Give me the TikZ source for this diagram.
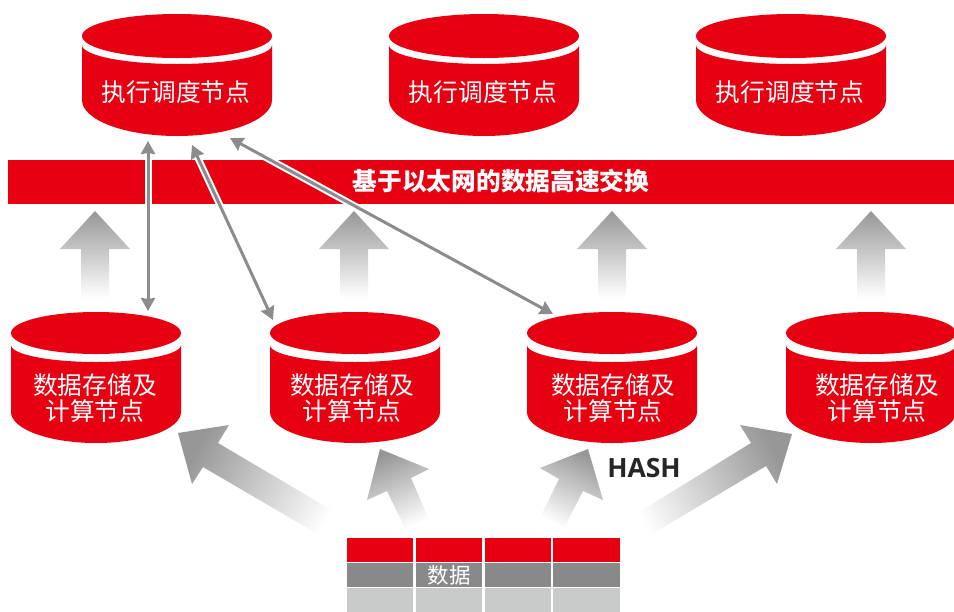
\documentclass[tikz,border=0pt]{standalone}
\usepackage{fontspec}
\newfontfamily\cjk{Noto Sans CJK SC}
\newfontfamily\latinbold{Open Sans}
\usetikzlibrary{arrows.meta, positioning}
\definecolor{drumred}{HTML}{E60012}
\definecolor{linkgray}{HTML}{8C8C8C}
\definecolor{fatgray}{HTML}{979797}
\definecolor{rowgray}{HTML}{898989}
\definecolor{rowlight}{HTML}{C9CACA}
\tikzset{
  drumtext/.style={text=white, font=\cjk\fontsize{24.7}{26}\selectfont, align=center, inner sep=0pt},
  link/.style={draw=linkgray, line width=3pt, {Stealth[length=13pt,width=14pt,inset=1pt]}-{Stealth[length=13pt,width=14pt,inset=1pt]},
    preaction={draw=white, line width=7pt, -}},
  cell/.style={minimum width=66.5pt, minimum height=24pt, inner sep=0pt, text=white, font=\cjk\fontsize{21.5}{22}\selectfont},
}
% x, top ellipse y, half width, top ry, body top y, arc ry, side end y, bottom ry
\newcommand{\drum}[8]{
\fill[drumred] (#1,#2) ellipse [x radius=#3, y radius=#4];
\fill[drumred] (#1-#3,#5) arc [start angle=180, end angle=0, x radius=#3, y radius=#6]
  -- (#1+#3,#7) arc [start angle=0, end angle=180, x radius=#3, y radius=#8] -- cycle;
}
% corners of the arrow, then the shading angle
\newcommand{\fatarrow}[2]{
\shade[shading=axis, top color=fatgray, bottom color=white, shading angle=#2] #1 -- cycle;
}
\begin{document}
\begin{tikzpicture}[x=1pt, y=-1pt]
\useasboundingbox (0,0) rectangle (954,611);
\fill[white] (0,0) rectangle (954,611);

% bar
\fill[drumred] (8,160) rectangle (954,204);
\node[text=white, font=\cjk\bfseries\fontsize{24.7}{25}\selectfont, inner sep=0pt] (bar) at (501,181) {基于以太网的数据高速交换};

% upward arrows
\foreach \x in {95,354,612,871} {
  \fatarrow{(\x,211) -- (\x+35,249) -- (\x+14,249) -- (\x+14,298) -- (\x-14,298) -- (\x-14,249) -- (\x-35,249)}{0}
}

% arrows from the table
\fatarrow{(178,433) -- (229,425) -- (218,443) -- (345,518) -- (333,543) -- (203,467) -- (192,484)}{61}
\fatarrow{(380,449) -- (429,469) -- (411,478) -- (430,522) -- (407,532) -- (387,491) -- (367,500)}{24}
\fatarrow{(588,449) -- (603,500) -- (583,491) -- (563,530) -- (538,522) -- (559,479) -- (540,468)}{-26}
\fatarrow{(792,434) -- (777,484) -- (766,466) -- (637,543) -- (623,522) -- (751,443) -- (740,425)}{-61}

% drums
\foreach \x in {177,484,791} {
  \drum{\x}{36}{95}{22}{45}{19}{100}{36}
}
\foreach \x in {96,355,612,871} {
  \drum{\x}{333}{85}{21}{345}{17}{412}{31}
}

\node[drumtext] (sched1) at (176,92) {执行调度节点};
\node[drumtext] (sched2) at (483,92) {执行调度节点};
\node[drumtext] (sched3) at (790,92) {执行调度节点};
\node[drumtext] (store1) at (95,398) {数据存储及\\计算节点};
\node[drumtext] (store2) at (352,398) {数据存储及\\计算节点};
\node[drumtext] (store3) at (613,398) {数据存储及\\计算节点};
\node[drumtext] (store4) at (877,398) {数据存储及\\计算节点};

% thin links
\coordinate (schedA) at (148,141);
\coordinate (schedB) at (192,145);
\coordinate (schedC) at (230,138);
\coordinate (storeA) at (148,311);
\coordinate (storeB) at (273,320);
\coordinate (storeC) at (553,314);
\draw[link] (schedA) -- (storeA);
\draw[link] (schedB) -- (storeB);
\draw[link] (schedC) -- (storeC);

\node[font=\latinbold\bfseries\fontsize{26.5}{27}\selectfont, text=black!85, inner sep=0pt] (hash) at (644,468) {HASH};

% table
\foreach \c/\x in {1/380,2/449,3/518,4/586.5} {
  \node[cell, fill=drumred] (red\c) at (\x,550) {};
  \node[cell, fill=rowgray] (mid\c) at (\x,575) {};
  \node[cell, fill=rowlight] (low\c) at (\x,600) {};
}
\node[cell] (data) at (mid2) {数据};
\end{tikzpicture}
\end{document}
